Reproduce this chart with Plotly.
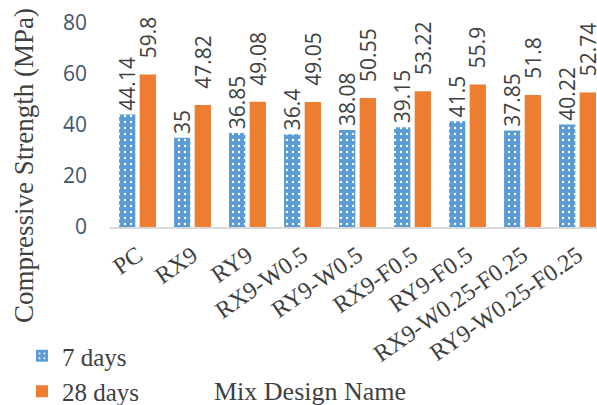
import plotly.graph_objects as go

categories = ["PC", "RX9", "RY9", "RX9-W0.5", "RY9-W0.5", "RX9-F0.5", "RY9-F0.5",
              "RX9-W0.25-F0.25", "RY9-W0.25-F0.25"]
days7 = [44.14, 35, 36.85, 36.4, 38.08, 39.15, 41.5, 37.85, 40.22]
days28 = [59.8, 47.82, 49.08, 49.05, 50.55, 53.22, 55.9, 51.8, 52.74]
series_names = ["7 days", "28 days"]
y_ticks = [0, 20, 40, 60, 80]

W, H = 597, 405
ML, MT, MB = 110, 23, 178
plot_h = H - MT - MB
plot_w = W - ML

serif = "Liberation Serif"
sans = "Open Sans"

fig = go.Figure()
fig.add_trace(go.Bar(
    x=categories, y=days7, name=series_names[0],
    marker=dict(color="#5B9BD5",
                pattern=dict(shape=".", fgcolor="white", bgcolor="#5B9BD5",
                             size=6, solidity=0.12, fillmode="replace"),
                line=dict(width=0)),
))
fig.add_trace(go.Bar(
    x=categories, y=days28, name=series_names[1],
    marker=dict(color="#ED7D31", line=dict(width=0)),
))

annotations = []
for i, c in enumerate(categories):
    annotations.append(dict(x=c, y=days7[i], xref="x", yref="y", text=f"{days7[i]:g}",
                            textangle=-90, showarrow=False, xshift=-10.3, yshift=2,
                            yanchor="bottom", xanchor="center",
                            font=dict(family=sans, size=21, color="#404040")))
    annotations.append(dict(x=c, y=days28[i], xref="x", yref="y", text=f"{days28[i]:g}",
                            textangle=-90, showarrow=False, xshift=10.3, yshift=14,
                            yanchor="bottom", xanchor="center",
                            font=dict(family=sans, size=21, color="#404040")))

annotations.append(dict(text="Compressive Strength (MPa)", xref="paper", yref="paper",
                        x=(24 - ML) / plot_w, y=(H - MB - 166) / plot_h,
                        textangle=-90, showarrow=False, xanchor="center", yanchor="middle",
                        font=dict(family=serif, size=27, color="#404040")))
annotations.append(dict(text="Mix Design Name", xref="paper", yref="paper",
                        x=(310 - ML) / plot_w, y=(H - MB - 391) / plot_h,
                        showarrow=False, xanchor="center", yanchor="middle",
                        font=dict(family=serif, size=26, color="#404040")))

fig.update_layout(
    width=W, height=H,
    margin=dict(l=ML, r=0, t=MT, b=MB, pad=0, autoexpand=False),
    paper_bgcolor="white", plot_bgcolor="white",
    barmode="group", bargap=0.25, bargroupgap=0.21,
    showlegend=True,
    legend=dict(xref="container", yref="container", x=22 / W, y=1 - 333 / H,
                xanchor="left", yanchor="top", orientation="v",
                font=dict(family=serif, size=25, color="#404040"),
                bgcolor="rgba(0,0,0,0)", itemclick=False),
    annotations=annotations,
    xaxis=dict(type="category", range=[-0.5, 8.5 - 8 / 55], showgrid=False,
               showline=True, linecolor="#D9D9D9", linewidth=2, zeroline=False,
               ticks="", tickangle=-35, ticklabelstandoff=3, automargin=False,
               tickfont=dict(family=serif, size=24, color="#404040")),
    yaxis=dict(range=[0, 80], tickvals=y_ticks, showgrid=False, showline=False,
               zeroline=False, ticks="", ticklabelstandoff=22, automargin=False,
               tickfont=dict(family=sans, size=21, color="#44546A")),
)

fig.write_html("out.html")
